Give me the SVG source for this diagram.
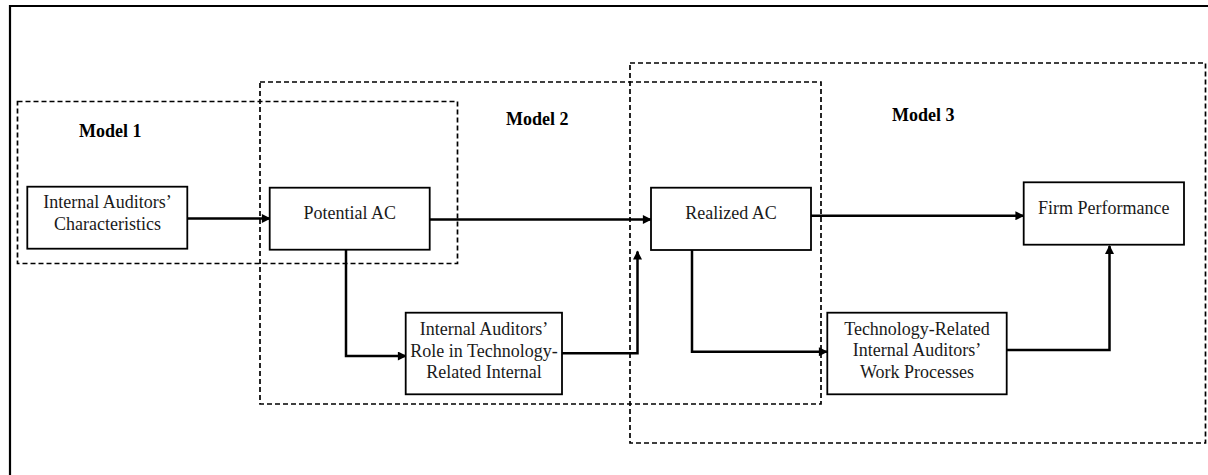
<svg xmlns="http://www.w3.org/2000/svg" width="1208" height="475" viewBox="0 0 1208 475">
  <style>
    .frame { fill: none; stroke: #000; stroke-width: 2.2; }
    .model { fill: none; stroke: #000; stroke-width: 1.7; stroke-dasharray: 5 3; }
    .box { fill: #fff; stroke: #000; stroke-width: 1.8; }
    .lbl { font-family: "Liberation Serif", "Times New Roman", serif; font-size: 18px; fill: #1a1a1a; text-anchor: middle; }
    .mlbl { font-family: "Liberation Serif", "Times New Roman", serif; font-size: 18px; font-weight: bold; fill: #000; }
    .conn { fill: none; stroke: #000; stroke-width: 2.5; marker-end: url(#arrow); }
  </style>
  <defs>
    <marker id="arrow" viewBox="0 0 10 10" refX="9" refY="5" markerUnits="userSpaceOnUse" markerWidth="10" markerHeight="9" orient="auto">
      <path d="M0,0 L10,5 L0,10 Z" fill="#000"/>
    </marker>
  </defs>
  <rect width="1208" height="475" fill="#fff"/>

  <!-- outer frame: top and left edges -->
  <path class="frame" d="M10,475 V6 H1208"/>

  <!-- model groupings -->
  <g id="model-1">
    <rect class="model" x="17.5" y="101.5" width="440" height="162"/>
    <text class="mlbl" x="79" y="137">Model 1</text>
  </g>
  <g id="model-2">
    <rect class="model" x="260" y="82" width="561" height="322"/>
    <text class="mlbl" x="506" y="125">Model 2</text>
  </g>
  <g id="model-3">
    <rect class="model" x="630" y="63" width="575.5" height="380"/>
    <text class="mlbl" x="892" y="121">Model 3</text>
  </g>

  <!-- connectors -->
  <g id="connectors">
    <path class="conn" d="M188,218.5 H270"/>
    <path class="conn" d="M430,219.5 H651"/>
    <path class="conn" d="M811,215.7 H1023.5"/>
    <path class="conn" d="M346,250 V356 H406"/>
    <path class="conn" d="M562,353.3 H637.5 V251.5"/>
    <path class="conn" d="M692,250 V351.7 H827"/>
    <path class="conn" d="M1007,350 H1109.5 V246"/>
  </g>

  <!-- nodes -->
  <g id="characteristics">
    <rect class="box" x="27.3" y="186.7" width="160" height="62"/>
    <text class="lbl" x="107.5" y="208">Internal Auditors’</text>
    <text class="lbl" x="107.5" y="230">Characteristics</text>
  </g>
  <g id="potential-ac">
    <rect class="box" x="269.7" y="187.7" width="160" height="62"/>
    <text class="lbl" x="349.7" y="218.5">Potential AC</text>
  </g>
  <g id="realized-ac">
    <rect class="box" x="651" y="187.7" width="160" height="62.3"/>
    <text class="lbl" x="731" y="219">Realized AC</text>
  </g>
  <g id="firm-performance">
    <rect class="box" x="1023.7" y="182.3" width="160.3" height="62.4"/>
    <text class="lbl" x="1103.8" y="214">Firm Performance</text>
  </g>
  <g id="ia-role">
    <rect class="box" x="405.7" y="312.7" width="156.3" height="81.6"/>
    <text class="lbl" x="484" y="335">Internal Auditors’</text>
    <text class="lbl" x="484" y="356.7">Role in Technology-</text>
    <text class="lbl" x="484" y="378.3">Related Internal</text>
  </g>
  <g id="work-processes">
    <rect class="box" x="827.3" y="312.7" width="179.4" height="81.6"/>
    <text class="lbl" x="917" y="335">Technology-Related</text>
    <text class="lbl" x="917" y="356.3">Internal Auditors’</text>
    <text class="lbl" x="917" y="377.7">Work Processes</text>
  </g>
</svg>
